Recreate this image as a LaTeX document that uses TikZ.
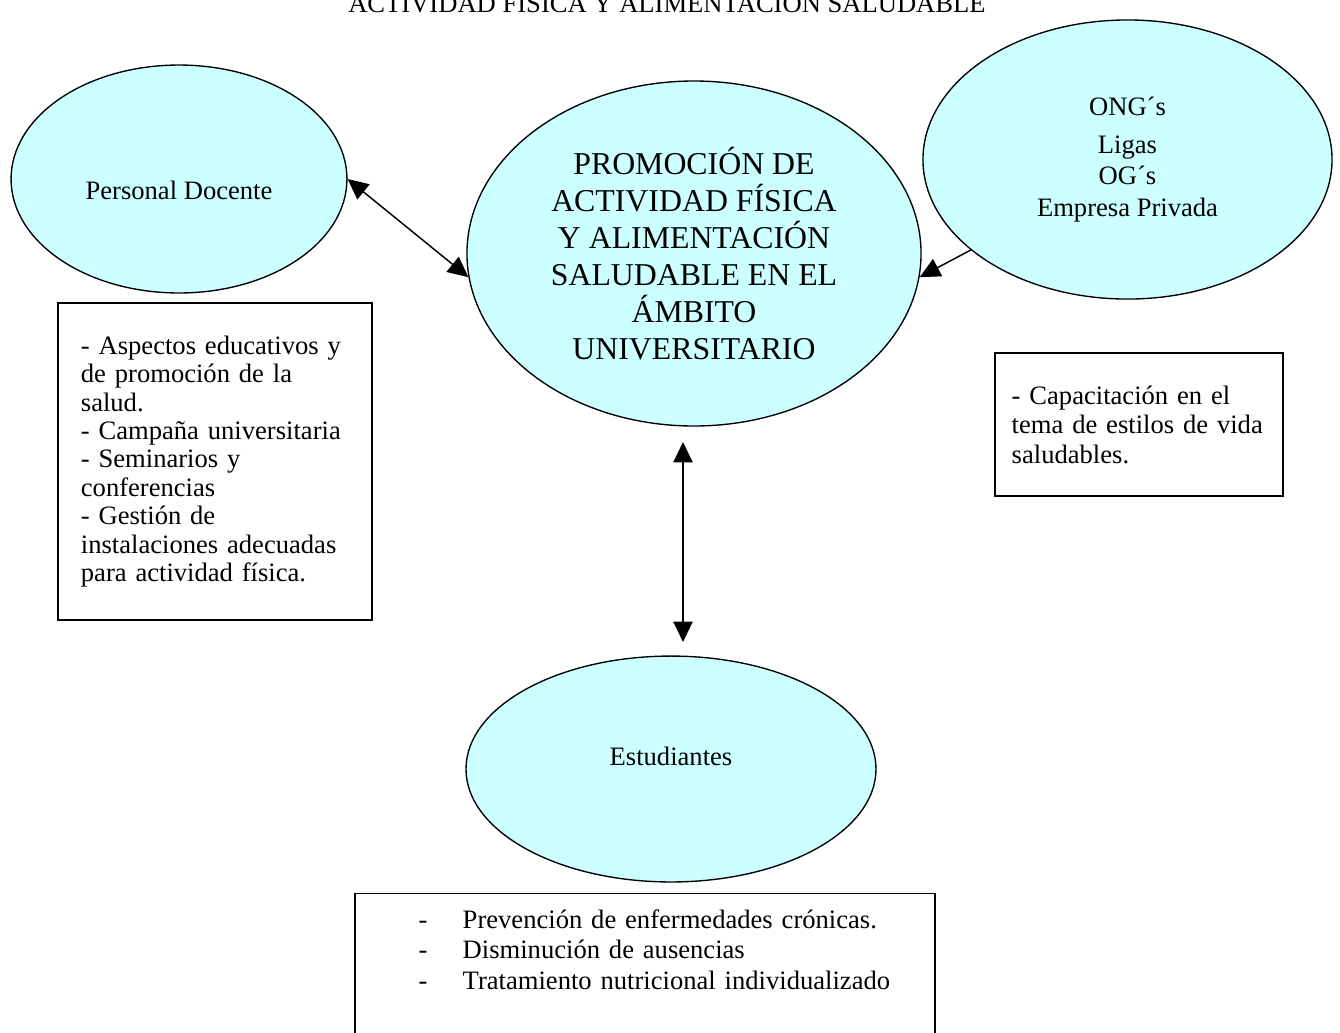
\documentclass[tikz,border=0pt]{standalone}
\usepackage{fontspec}
\setmainfont{Liberation Serif}
\usetikzlibrary{arrows.meta}
\usetikzlibrary{shapes.geometric}
\definecolor{celeste}{HTML}{CCFFFF}
\newcommand{\guion}{\hspace*{28pt}\makebox[19.4pt][l]{-}}

\begin{document}
\begin{tikzpicture}[x=0.44pt, y=-0.44pt,
    globo/.style={ellipse, draw, fill=celeste, line width=0.6pt, inner sep=0pt, align=center},
    caja/.style={rectangle, draw, line width=0.6pt, align=left, inner ysep=0pt},
    flecha/.style={line width=0.65pt, -{Triangle[length=9pt, width=8.5pt]}},
    dflecha/.style={line width=0.65pt, {Triangle[length=9pt, width=8.5pt]}-{Triangle[length=9pt, width=8.5pt]}}]
  \useasboundingbox (0,0) rectangle (1340,1032);

  \node[anchor=base, font=\fontsize{11.7}{13.8}\selectfont] (titulo) at (667,12) {ACTIVIDAD FÍSICA Y ALIMENTACIÓN SALUDABLE};

  % elipses
  \node[globo, minimum width=147.8pt, minimum height=100.3pt, text height=17.6pt, text depth=0pt, font=\fontsize{11.7}{13.8}\selectfont] (docente) at (179,179) {Personal Docente};
  \node[globo, minimum width=199.8pt, minimum height=151.8pt, font=\fontsize{14}{16.3}\selectfont] (promo) at (694,253.5) {PROMOCIÓN DE\\ ACTIVIDAD FÍSICA\\ Y ALIMENTACIÓN\\ SALUDABLE EN EL\\ ÁMBITO\\ UNIVERSITARIO};
  \node[globo, minimum width=180pt, minimum height=122.8pt, font=\fontsize{11.7}{13.9}\selectfont] (ong) at (1127.5,159.5) {ONG´s\\[2.6pt] Ligas\\ OG´s\\ Empresa Privada};
  \node[globo, minimum width=180.4pt, minimum height=99.4pt, text height=8pt, text depth=11.5pt, font=\fontsize{11.7}{13.8}\selectfont] (estud) at (671,769) {Estudiantes};

  % cajas de texto
  \node[caja, minimum width=138.2pt, minimum height=139.5pt, inner xsep=10.1pt, text width=118pt, font=\fontsize{11.7}{12.5}\selectfont] (cajaDoc) at (215,461.5) {- Aspectos educativos y\\ de promoción de la\\ salud.\\ - Campaña universitaria\\ - Seminarios y\\ conferencias\\ - Gestión de\\ instalaciones adecuadas\\ para actividad física.};
  \node[caja, minimum width=126.7pt, minimum height=62.9pt, inner xsep=7.3pt, text width=112pt, font=\fontsize{11.7}{13}\selectfont] (cajaOng) at (1139,424.5) {- Capacitación en el\\ tema de estilos de vida\\ saludables.};
  \node[caja, anchor=north, inner xsep=0pt, inner ysep=7pt, text width=255.2pt, text depth=100pt, font=\fontsize{11.7}{13.4}\selectfont] (cajaEst) at (645,893) {\guion Prevención de enfermedades crónicas.\\ \guion Disminución de ausencias\\ \guion Tratamiento nutricional individualizado};

  % flechas
  \coordinate (vArriba) at (683,442);
  \coordinate (vAbajo) at (683,642);
  \draw[dflecha] (docente.east) -- (promo.186);
  \draw[flecha] (ong.210) -- (promo.354);
  \draw[dflecha] (vArriba) -- (vAbajo);
\end{tikzpicture}
\end{document}
